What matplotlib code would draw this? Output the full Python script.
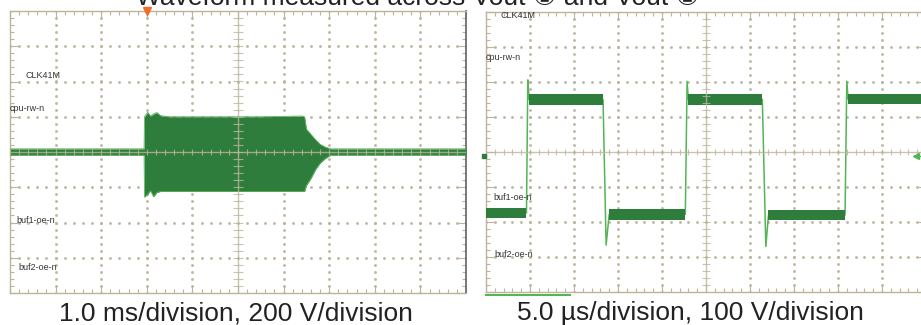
import numpy as np
import matplotlib.pyplot as plt

# left scope: burst envelope (divisions)
burst_x = [0, 2.94, 2.95, 3.02, 3.08, 3.15, 3.22, 3.30, 3.5, 4.5, 5.5, 6.40, 6.46,
           6.50, 6.60, 6.70, 6.80, 6.90, 7.03, 10]
burst_top = [0.09, 0.09, 1.0, 1.13, 1.02, 1.08, 1.12, 1.03, 1.0, 1.0, 1.0, 1.02, 1.0,
             0.65, 0.5, 0.35, 0.22, 0.15, 0.09, 0.09]
burst_bottom = [-0.09, -0.09, -1.28, -1.2, -1.1, -1.27, -1.15, -1.12, -1.12, -1.12, -1.12,
                -1.12, -1.12, -0.95, -0.75, -0.5, -0.32, -0.2, -0.09, -0.09]

# right scope: square wave plateaus and edge spikes (divisions)
plateau_start = [0.0, 0.98, 2.80, 4.60, 6.42, 8.23]
plateau_end = [0.92, 2.66, 4.53, 6.28, 8.16, 10.0]
plateau_level = [-1.74, 1.50, -1.78, 1.50, -1.80, 1.52]
spike_t = [0.95, 2.73, 4.57, 6.36, 8.20]
spike_v = [2.06, -2.66, 2.02, -2.70, 2.02]

left_labels = [("CLK41M", 0.33, 2.18), ("cpu-rw-n", 0.0, 1.22),
               ("buf1-oe-n", 0.15, -1.93), ("buf2-oe-n", 0.18, -3.29)]
right_labels = [("CLK41M", 0.32, 3.89), ("cpu-rw-n", 0.0, 2.69),
                ("buf1-oe-n", 0.16, -1.29), ("buf2-oe-n", 0.18, -2.94)]

title = "Waveform measured across Vout \u2460 and Vout \u2461"
captions = ["1.0 ms/division, 200 V/division", "5.0 \u00b5s/division, 100 V/division"]

dark_green = "#2f7d3c"
light_green = "#55b455"
grid_col = "#bdb49c"
fonts = ["Liberation Sans", "DejaVu Sans"]


def scope_grid(ax):
    ax.set_xlim(0, 10)
    ax.set_ylim(-4, 4)
    ax.set_xticks(range(11))
    ax.set_yticks(range(-4, 5))
    ax.set_xticks(np.arange(0, 10.01, 0.2), minor=True)
    ax.set_yticks(np.arange(-4, 4.01, 0.2), minor=True)
    ax.tick_params(which="both", direction="in", top=True, right=True,
                   labelbottom=False, labelleft=False, color=grid_col, width=0.8)
    ax.tick_params(which="major", length=6)
    ax.tick_params(which="minor", length=3)
    for s in ax.spines.values():
        s.set_color(grid_col)
        s.set_linewidth(1.0)
    fine = np.arange(0, 10.01, 0.2)
    fine_y = np.arange(-4, 4.01, 0.2)
    for gx in [1, 2, 3, 4, 6, 7, 8, 9]:
        ax.plot([gx] * len(fine_y), fine_y, ls="none", marker="s", ms=0.9,
                color=grid_col, zorder=1)
    for gy in [-3, -2, -1, 1, 2, 3]:
        ax.plot(fine, [gy] * len(fine), ls="none", marker="s", ms=0.9,
                color=grid_col, zorder=1)
    # centre cross with fine ticks, drawn over the trace
    ax.axhline(0, color=grid_col, lw=1.0, alpha=0.8, zorder=4)
    ax.axvline(5, color=grid_col, lw=1.0, alpha=0.8, zorder=4)
    ax.vlines(fine, -0.09, 0.09, color=grid_col, lw=0.8, alpha=0.8, zorder=4)
    ax.hlines(fine_y, 4.9, 5.1, color=grid_col, lw=0.8, alpha=0.8, zorder=4)


fig = plt.figure(figsize=(9.21, 3.25), dpi=100)
ax1 = fig.add_axes([10 / 921, 32 / 325, 456 / 921, 282 / 325])
ax2 = fig.add_axes([486 / 921, 33 / 325, 440 / 921, 280 / 325])

# left: burst
scope_grid(ax1)
ax1.fill_between(burst_x, burst_bottom, burst_top, color=dark_green, lw=0, zorder=3)
ax1.plot(burst_x, burst_top, color=light_green, lw=0.6, zorder=3)
ax1.plot(burst_x, burst_bottom, color=light_green, lw=0.6, zorder=3)
ax1.spines["right"].set_color("#6e6e6e")
ax1.spines["right"].set_linewidth(1.3)
ax1.plot([3.01], [4.0], marker="v", ms=6, color="#f26b2b", clip_on=False, zorder=6)
for txt, x, y in left_labels:
    ax1.text(x, y, txt, fontsize=6.5, va="center", ha="left", color="#333333",
             family=fonts, zorder=5)

# right: square wave
scope_grid(ax2)
line_t, line_v = [], []
for i in range(len(spike_t)):
    line_t += [plateau_end[i], spike_t[i], plateau_start[i + 1]]
    line_v += [plateau_level[i], spike_v[i], plateau_level[i + 1]]
ax2.plot(line_t, line_v, color=light_green, lw=1.1, zorder=3)
for t0, t1, lv in zip(plateau_start, plateau_end, plateau_level):
    ax2.fill_between([t0, t1], lv - 0.15, lv + 0.15, color=dark_green, lw=0, zorder=3)
ax2.plot([0, 1.9], [-4.09, -4.09], color=light_green, lw=1.5, clip_on=False, zorder=5)
ax2.plot([-0.05], [-0.1], marker="s", ms=3.5, color=dark_green, clip_on=False, zorder=5)
ax2.plot([9.77], [-0.12], marker="<", ms=4, color=light_green, clip_on=False, zorder=5)
ax2.plot([9.77, 9.95], [-0.12, -0.12], color=light_green, lw=1, zorder=5)
for txt, x, y in right_labels:
    ax2.text(x, y, txt, fontsize=6.5, va="center", ha="left", color="#333333",
             family=fonts, zorder=5)

fig.text(418 / 921, 1 - 5 / 325, title, ha="center", va="baseline", fontsize=19,
         family=fonts, color="#222222")
fig.text(236 / 921, 5 / 325, captions[0], ha="center", va="baseline", fontsize=19,
         family=fonts, color="#222222")
fig.text(690 / 921, 5 / 325, captions[1], ha="center", va="baseline", fontsize=19,
         family=fonts, color="#222222")

plt.savefig("out.png", dpi=100)
